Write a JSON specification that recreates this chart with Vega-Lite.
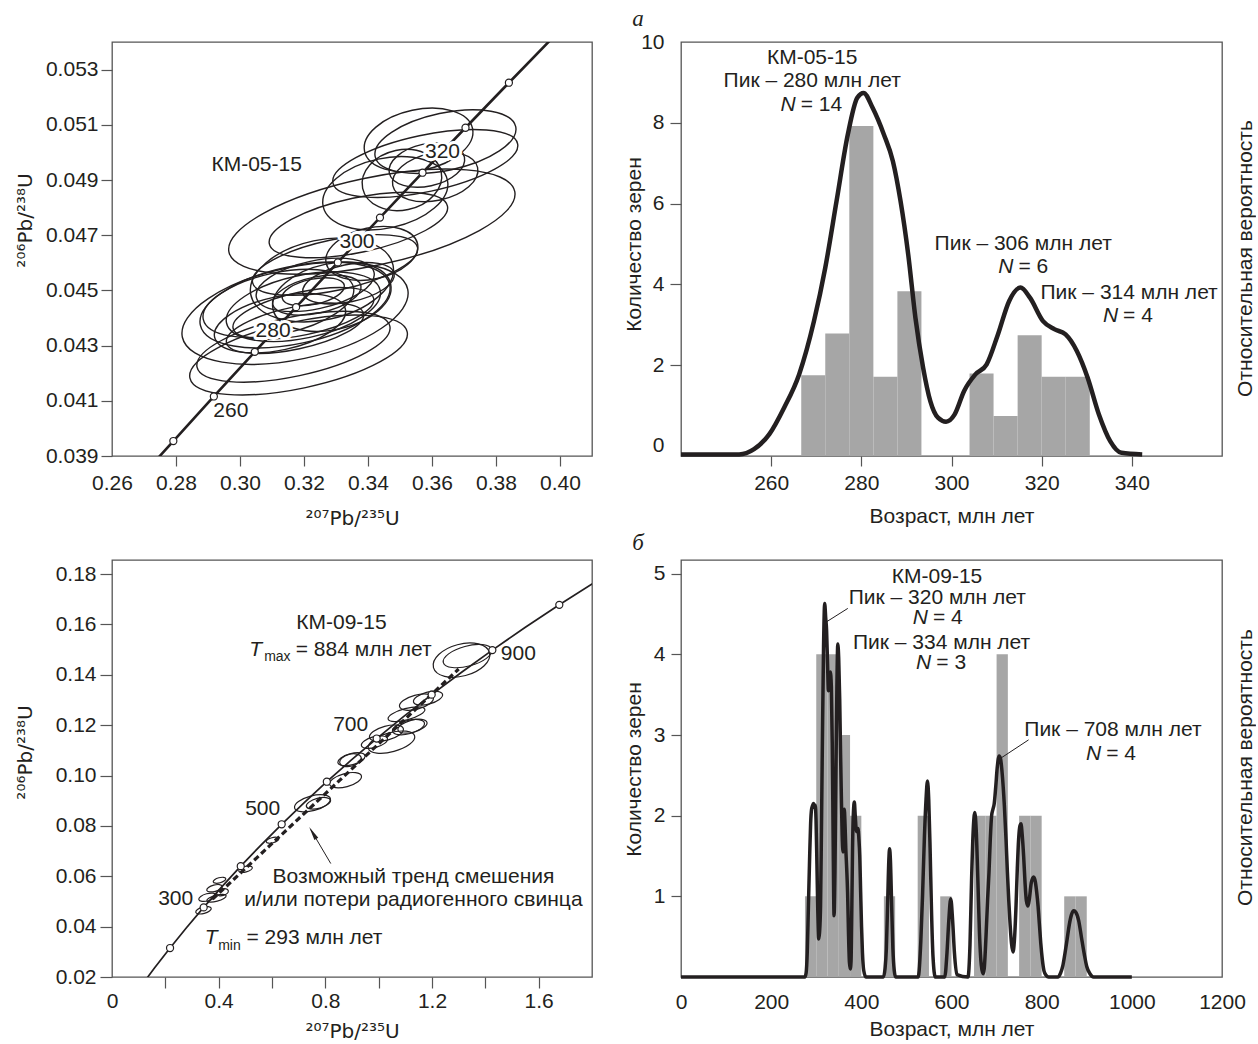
{
"$schema": "https://vega.github.io/schema/vega-lite/v6.json",
"background": "white",
"padding": {"left": 14, "top": 6, "right": 0, "bottom": 0},
"bounds": "flush",
"columns": 2,
"spacing": {"row": 104, "column": 89},
"resolve": {"scale": {"size": "independent", "shape": "independent"}},
"config": {
  "font": "Liberation Sans",
  "view": {"stroke": "#555555", "strokeWidth": 1.3},
  "axis": {"domain": false, "grid": false, "labelFont": "Liberation Sans", "labelFontSize": 21, "labelColor": "#231f20", "titleFont": "Liberation Sans", "titleFontSize": 21, "titleFontWeight": "normal", "titleColor": "#231f20", "tickColor": "#555555", "tickWidth": 1.2, "labelFlush": false, "labelOverlap": false},
  "text": {"font": "Liberation Sans", "fontSize": 21, "color": "#231f20"}
},
"datasets": {
  "tl_ell": [
    {"Pb207_U235":0.3642,"Pb206_U238":0.05039,"err_x":0.0449,"form":"b"},
    {"Pb207_U235":0.3579,"Pb206_U238":0.04960,"err_x":0.0590,"form":"a"},
    {"Pb207_U235":0.3454,"Pb206_U238":0.04852,"err_x":0.0397,"form":"c"},
    {"Pb207_U235":0.3506,"Pb206_U238":0.04900,"err_x":0.0251,"form":"d"},
    {"Pb207_U235":0.3584,"Pb206_U238":0.04954,"err_x":0.0240,"form":"c"},
    {"Pb207_U235":0.3610,"Pb206_U238":0.04912,"err_x":0.0271,"form":"c"},
    {"Pb207_U235":0.3412,"Pb206_U238":0.04749,"err_x":0.0913,"form":"a"},
    {"Pb207_U235":0.3370,"Pb206_U238":0.04737,"err_x":0.0569,"form":"a"},
    {"Pb207_U235":0.3412,"Pb206_U238":0.04634,"err_x":0.0292,"form":"c"},
    {"Pb207_U235":0.3558,"Pb206_U238":0.05045,"err_x":0.0345,"form":"c"},
    {"Pb207_U235":0.3172,"Pb206_U238":0.04417,"err_x":0.0720,"form":"b"},
    {"Pb207_U235":0.3183,"Pb206_U238":0.04266,"err_x":0.0694,"form":"a"},
    {"Pb207_U235":0.3167,"Pb206_U238":0.04296,"err_x":0.0616,"form":"a"},
    {"Pb207_U235":0.3172,"Pb206_U238":0.04447,"err_x":0.0605,"form":"b"},
    {"Pb207_U235":0.3198,"Pb206_U238":0.04441,"err_x":0.0491,"form":"b"},
    {"Pb207_U235":0.3256,"Pb206_U238":0.04538,"err_x":0.0454,"form":"c"},
    {"Pb207_U235":0.3235,"Pb206_U238":0.04520,"err_x":0.0376,"form":"b"},
    {"Pb207_U235":0.3240,"Pb206_U238":0.04483,"err_x":0.0282,"form":"b"},
    {"Pb207_U235":0.3229,"Pb206_U238":0.04495,"err_x":0.0198,"form":"b"},
    {"Pb207_U235":0.3297,"Pb206_U238":0.04592,"err_x":0.0527,"form":"a"},
    {"Pb207_U235":0.3198,"Pb206_U238":0.04417,"err_x":0.0449,"form":"a"},
    {"Pb207_U235":0.3172,"Pb206_U238":0.04363,"err_x":0.0438,"form":"a"},
    {"Pb207_U235":0.3125,"Pb206_U238":0.04381,"err_x":0.0418,"form":"b"},
    {"Pb207_U235":0.3287,"Pb206_U238":0.04477,"err_x":0.0376,"form":"c"},
    {"Pb207_U235":0.3120,"Pb206_U238":0.04453,"err_x":0.0480,"form":"b"},
    {"Pb207_U235":0.3339,"Pb206_U238":0.04526,"err_x":0.0292,"form":"b"}
  ],
  "tl_conc": [
    {"age":240,"Pb207_U235":0.26664,"Pb206_U238":0.037932},
    {"age":250,"Pb207_U235":0.27917,"Pb206_U238":0.039543},
    {"age":260,"Pb207_U235":0.29183,"Pb206_U238":0.041157},
    {"age":270,"Pb207_U235":0.30462,"Pb206_U238":0.042773},
    {"age":280,"Pb207_U235":0.31753,"Pb206_U238":0.044392},
    {"age":290,"Pb207_U235":0.33057,"Pb206_U238":0.046014},
    {"age":300,"Pb207_U235":0.34374,"Pb206_U238":0.047637},
    {"age":310,"Pb207_U235":0.35704,"Pb206_U238":0.049264},
    {"age":320,"Pb207_U235":0.37047,"Pb206_U238":0.050893},
    {"age":330,"Pb207_U235":0.38403,"Pb206_U238":0.052524},
    {"age":340,"Pb207_U235":0.39773,"Pb206_U238":0.054158},
    {"age":350,"Pb207_U235":0.41156,"Pb206_U238":0.055794}
  ],
  "tr_hist": [
    {"age_from":266.67,"age_to":272.0,"count":1.75},
    {"age_from":272.0,"age_to":277.33,"count":2.78},
    {"age_from":277.33,"age_to":282.67,"count":7.92},
    {"age_from":282.67,"age_to":288.0,"count":1.71},
    {"age_from":288.0,"age_to":293.33,"count":3.83},
    {"age_from":304.0,"age_to":309.33,"count":1.79},
    {"age_from":309.33,"age_to":314.67,"count":0.74},
    {"age_from":314.67,"age_to":320.0,"count":2.74},
    {"age_from":320.0,"age_to":325.33,"count":1.71},
    {"age_from":325.33,"age_to":330.67,"count":1.71}
  ],
  "tr_kde": [
    {"age":240,"density":0.04},{"age":252.9,"density":0.04},{"age":256.2,"density":0.17},{"age":259.6,"density":0.54},
    {"age":262.9,"density":1.2},{"age":266.2,"density":2.02},{"age":269.5,"density":3.34},{"age":272.0,"density":4.66},
    {"age":274.5,"density":6.31},{"age":277.0,"density":7.96},{"age":279.1,"density":8.87},{"age":280.5,"density":8.99},
    {"age":282.5,"density":8.62},{"age":285.0,"density":7.96},{"age":287.0,"density":7.3},{"age":288.7,"density":6.31},
    {"age":290.4,"density":4.99},{"age":292.0,"density":3.42},{"age":293.7,"density":2.19},{"age":295.3,"density":1.36},
    {"age":297.0,"density":0.95},{"age":298.8,"density":0.85},{"age":300.7,"density":1.03},{"age":302.8,"density":1.61},
    {"age":305.3,"density":2.02},{"age":307.8,"density":2.27},{"age":310.3,"density":3.01},{"age":312.8,"density":3.84},
    {"age":315.3,"density":4.17},{"age":317.4,"density":3.92},{"age":320.3,"density":3.34},{"age":322.8,"density":3.14},
    {"age":325.3,"density":3.01},{"age":327.8,"density":2.6},{"age":330.2,"density":1.94},{"age":332.7,"density":1.03},
    {"age":335.2,"density":0.37},{"age":337.7,"density":0.08},{"age":342.3,"density":0.04}
  ],
  "bl_ell": [
    {"Pb207_U235":1.3105,"Pb206_U238":0.14584,"err_x":0.2175,"form":"c"},
    {"Pb207_U235":1.3331,"Pb206_U238":0.14743,"err_x":0.1875,"form":"b"},
    {"Pb207_U235":1.1417,"Pb206_U238":0.12915,"err_x":0.1312,"form":"b"},
    {"Pb207_U235":1.1043,"Pb206_U238":0.12438,"err_x":0.1425,"form":"a"},
    {"Pb207_U235":1.1268,"Pb206_U238":0.11961,"err_x":0.1125,"form":"b"},
    {"Pb207_U235":1.0480,"Pb206_U238":0.11326,"err_x":0.1800,"form":"b"},
    {"Pb207_U235":1.0292,"Pb206_U238":0.11683,"err_x":0.1312,"form":"b"},
    {"Pb207_U235":0.9842,"Pb206_U238":0.11326,"err_x":0.1012,"form":"b"},
    {"Pb207_U235":1.1118,"Pb206_U238":0.11922,"err_x":0.1237,"form":"b"},
    {"Pb207_U235":0.8981,"Pb206_U238":0.10650,"err_x":0.1050,"form":"b"},
    {"Pb207_U235":0.8943,"Pb206_U238":0.10610,"err_x":0.0825,"form":"c"},
    {"Pb207_U235":0.8756,"Pb206_U238":0.09816,"err_x":0.1237,"form":"b"},
    {"Pb207_U235":0.7518,"Pb206_U238":0.08900,"err_x":0.1387,"form":"b"},
    {"Pb207_U235":0.7742,"Pb206_U238":0.08900,"err_x":0.0937,"form":"b"},
    {"Pb207_U235":0.6019,"Pb206_U238":0.07432,"err_x":0.0487,"form":"b"},
    {"Pb207_U235":0.5007,"Pb206_U238":0.06280,"err_x":0.0525,"form":"b"},
    {"Pb207_U235":0.4031,"Pb206_U238":0.05842,"err_x":0.0487,"form":"b"},
    {"Pb207_U235":0.3844,"Pb206_U238":0.05525,"err_x":0.0600,"form":"b"},
    {"Pb207_U235":0.3581,"Pb206_U238":0.05167,"err_x":0.0675,"form":"b"},
    {"Pb207_U235":0.3918,"Pb206_U238":0.05127,"err_x":0.0750,"form":"a"},
    {"Pb207_U235":0.3431,"Pb206_U238":0.04650,"err_x":0.0600,"form":"b"},
    {"Pb207_U235":0.4143,"Pb206_U238":0.05366,"err_x":0.0450,"form":"c"},
    {"Pb207_U235":1.1851,"Pb206_U238":0.13074,"err_x":0.1125,"form":"b"}
  ],
  "bl_conc": [
    {"age":100,"Pb207_U235":0.10350,"Pb206_U238":0.015633},
    {"age":150,"Pb207_U235":0.15919,"Pb206_U238":0.023542},
    {"age":200,"Pb207_U235":0.21770,"Pb206_U238":0.031511},
    {"age":250,"Pb207_U235":0.27917,"Pb206_U238":0.039543},
    {"age":300,"Pb207_U235":0.34374,"Pb206_U238":0.047637},
    {"age":350,"Pb207_U235":0.41156,"Pb206_U238":0.055794},
    {"age":400,"Pb207_U235":0.48281,"Pb206_U238":0.064016},
    {"age":450,"Pb207_U235":0.55766,"Pb206_U238":0.072301},
    {"age":500,"Pb207_U235":0.63628,"Pb206_U238":0.080650},
    {"age":550,"Pb207_U235":0.71887,"Pb206_U238":0.089064},
    {"age":600,"Pb207_U235":0.80563,"Pb206_U238":0.097544},
    {"age":650,"Pb207_U235":0.89677,"Pb206_U238":0.106090},
    {"age":700,"Pb207_U235":0.99251,"Pb206_U238":0.114702},
    {"age":750,"Pb207_U235":1.09308,"Pb206_U238":0.123382},
    {"age":800,"Pb207_U235":1.19873,"Pb206_U238":0.132129},
    {"age":850,"Pb207_U235":1.30971,"Pb206_U238":0.140944},
    {"age":900,"Pb207_U235":1.42629,"Pb206_U238":0.149828},
    {"age":950,"Pb207_U235":1.54876,"Pb206_U238":0.158781},
    {"age":1000,"Pb207_U235":1.67741,"Pb206_U238":0.167804},
    {"age":1050,"Pb207_U235":1.81255,"Pb206_U238":0.176897},
    {"age":1100,"Pb207_U235":1.95452,"Pb206_U238":0.186061}
  ],
  "br_hist": [
    {"age_from":275,"age_to":300,"count":1},{"age_from":300,"age_to":325,"count":4},{"age_from":325,"age_to":350,"count":4},
    {"age_from":350,"age_to":375,"count":3},{"age_from":375,"age_to":400,"count":2},{"age_from":450,"age_to":475,"count":1},
    {"age_from":525,"age_to":550,"count":2},{"age_from":575,"age_to":600,"count":1},{"age_from":650,"age_to":675,"count":2},
    {"age_from":675,"age_to":700,"count":2},{"age_from":700,"age_to":725,"count":4},{"age_from":750,"age_to":775,"count":2},
    {"age_from":775,"age_to":800,"count":2},{"age_from":850,"age_to":875,"count":1},{"age_from":875,"age_to":900,"count":1}
  ],
  "br_kde": [
    {"age":0,"density":0},{"age":274.6,"density":0},{"age":277.5,"density":0.05},{"age":280,"density":0.3},{"age":282.5,"density":0.85},
    {"age":285.4,"density":1.5},{"age":287.5,"density":1.9},{"age":289.6,"density":2.08},{"age":291.5,"density":2.12},{"age":293.8,"density":2.15},
    {"age":296,"density":2.1},{"age":297.9,"density":2.13},{"age":299.5,"density":1.95},{"age":301.5,"density":1.4},{"age":303.5,"density":0.8},
    {"age":305.4,"density":0.47},{"age":307.3,"density":0.55},{"age":309.6,"density":0.9},{"age":311.5,"density":1.8},{"age":313.7,"density":2.95},
    {"age":316.2,"density":4.1},{"age":318.7,"density":4.63},{"age":321,"density":4.45},{"age":322.9,"density":4.3},{"age":325,"density":3.9},
    {"age":327,"density":3.55},{"age":329,"density":3.7},{"age":331.2,"density":3.78},{"age":333.5,"density":3.6},{"age":335.5,"density":2.9},
    {"age":337.5,"density":1.7},{"age":339.5,"density":0.76},{"age":341.5,"density":1.3},{"age":343.7,"density":2.54},{"age":345.8,"density":3.6},
    {"age":347.8,"density":4.13},{"age":349.8,"density":3.95},{"age":352,"density":3.45},{"age":354,"density":2.75},{"age":355.8,"density":2.2},
    {"age":357.5,"density":1.75},{"age":359.5,"density":1.55},{"age":361,"density":1.85},{"age":362.2,"density":2.08},{"age":363.8,"density":1.9},
    {"age":365.5,"density":1.6},{"age":367.5,"density":1.35},{"age":369.5,"density":1.05},{"age":371.5,"density":0.55},{"age":373.6,"density":0.18},
    {"age":375.5,"density":0.1},{"age":377.2,"density":0.2},{"age":379,"density":0.9},{"age":380.5,"density":1.6},{"age":382.5,"density":2.05},
    {"age":384.5,"density":2.17},{"age":386.5,"density":2.0},{"age":388.6,"density":1.83},{"age":390.5,"density":1.8},{"age":392.5,"density":1.84},
    {"age":394.5,"density":1.72},{"age":396.5,"density":1.5},{"age":398.5,"density":1.05},{"age":400.5,"density":0.62},{"age":402.5,"density":0.3},
    {"age":405.3,"density":0.08},{"age":410,"density":0},{"age":449,"density":0},{"age":452.5,"density":0.1},{"age":455.5,"density":0.35},
    {"age":458.5,"density":0.95},{"age":461,"density":1.45},{"age":462.7,"density":1.59},{"age":464.5,"density":1.45},{"age":467,"density":0.95},
    {"age":470,"density":0.35},{"age":473,"density":0.08},{"age":476,"density":0},{"age":526,"density":0},{"age":532,"density":0.45},
    {"age":536,"density":1.05},{"age":540,"density":1.75},{"age":543.5,"density":2.2},{"age":546.7,"density":2.43},{"age":549.5,"density":2.2},
    {"age":552.5,"density":1.6},{"age":555.5,"density":0.85},{"age":559,"density":0.25},{"age":564,"density":0},{"age":585,"density":0},
    {"age":590,"density":0.3},{"age":594,"density":0.7},{"age":598.3,"density":0.97},{"age":602.5,"density":0.7},{"age":606.5,"density":0.3},
    {"age":612,"density":0.03},{"age":636.6,"density":0},{"age":641,"density":0.4},{"age":644.5,"density":1.2},{"age":648,"density":1.8},
    {"age":651.6,"density":2.04},{"age":655,"density":1.8},{"age":658.5,"density":1.2},{"age":662,"density":0.55},{"age":666,"density":0.15},
    {"age":669.9,"density":0.04},{"age":672.5,"density":0.1},{"age":676.5,"density":0.5},{"age":680,"density":0.95},{"age":683.2,"density":1.3},
    {"age":686,"density":1.7},{"age":689,"density":2.0},{"age":692,"density":2.08},{"age":694.8,"density":2.15},{"age":698,"density":2.35},
    {"age":701.5,"density":2.6},{"age":705.7,"density":2.74},{"age":709,"density":2.7},{"age":712,"density":2.55},{"age":717.3,"density":2.12},
    {"age":721,"density":1.7},{"age":724,"density":1.3},{"age":727,"density":0.95},{"age":730,"density":0.65},{"age":733,"density":0.42},
    {"age":736.4,"density":0.31},{"age":739.5,"density":0.45},{"age":743.1,"density":0.88},{"age":746,"density":1.35},{"age":749,"density":1.72},
    {"age":752,"density":1.88},{"age":754,"density":1.9},{"age":757,"density":1.75},{"age":760,"density":1.5},{"age":763,"density":1.18},
    {"age":766,"density":0.95},{"age":769.7,"density":0.88},{"age":773,"density":0.98},{"age":777,"density":1.17},{"age":782.2,"density":1.24},
    {"age":786,"density":1.18},{"age":789,"density":1.05},{"age":792,"density":0.88},{"age":795,"density":0.65},{"age":798,"density":0.42},
    {"age":801.4,"density":0.22},{"age":805,"density":0.08},{"age":810,"density":0.02},{"age":815.5,"density":0},{"age":836,"density":0},
    {"age":842,"density":0.05},{"age":847,"density":0.14},{"age":851.3,"density":0.28},{"age":856,"density":0.45},{"age":861.3,"density":0.65},
    {"age":866,"density":0.77},{"age":871.3,"density":0.82},{"age":876,"density":0.8},{"age":882.1,"density":0.7},{"age":888,"density":0.5},
    {"age":894.6,"density":0.28},{"age":900,"density":0.13},{"age":907.1,"density":0.04},{"age":915,"density":0},{"age":1000,"density":0}
  ]
},
"concat": [
  {
    "width": 480, "height": 414,
    "layer": [
      {
        "data": {"name": "tl_ell"},
        "mark": {"type": "point", "filled": false, "opacity": 1, "color": "#231f20", "strokeWidth": 1.4, "angle": 348, "clip": true},
        "encoding": {
          "x": {"field": "Pb207_U235", "type": "quantitative", "scale": {"domain": [0.26, 0.41], "nice": false, "zero": false},
            "axis": {"title": "²⁰⁷Pb/²³⁵U", "titleFont": "DejaVu Sans", "titleFontSize": 20, "values": [0.26,0.27,0.28,0.29,0.30,0.31,0.32,0.33,0.34,0.35,0.36,0.37,0.38,0.39,0.40], "format": ".2f",
              "labelExpr": "round(datum.value * 100) % 2 == 0 ? datum.label : ''", "tickSize": 10, "labelPadding": 6,
              "titleY": 68, "titleBaseline": "alphabetic",
              "tickOpacity": {"condition": {"test": "datum.value < 0.265", "value": 0}, "value": 1}}},
          "y": {"field": "Pb206_U238", "type": "quantitative", "scale": {"domain": [0.039, 0.054], "nice": false, "zero": false},
            "axis": {"title": "²⁰⁶Pb/²³⁸U", "titleFont": "DejaVu Sans", "titleFontSize": 20, "values": [0.039,0.04,0.041,0.042,0.043,0.044,0.045,0.046,0.047,0.048,0.049,0.05,0.051,0.052,0.053], "format": ".3f",
              "labelExpr": "round(datum.value * 1000) % 2 == 1 ? datum.label : ''", "tickSize": 11, "labelPadding": 3,
              "titleX": -81, "titleY": 178, "titleAngle": 270, "titleBaseline": "alphabetic", "titleAlign": "center"}},
          "size": {"field": "err_x", "type": "quantitative", "scale": {"type": "pow", "exponent": 2, "domain": [0, 0.15], "range": [0, 230400]}, "legend": null},
          "shape": {"field": "form", "type": "nominal", "legend": null, "scale": {"domain": ["a","b","c","d"], "range": [
            "M1,0C1,0.1657,0.5523,0.3,0,0.3C-0.5523,0.3,-1,0.1657,-1,0C-1,-0.1657,-0.5523,-0.3,0,-0.3C0.5523,-0.3,1,-0.1657,1,0Z",
            "M1,0C1,0.2209,0.5523,0.4,0,0.4C-0.5523,0.4,-1,0.2209,-1,0C-1,-0.2209,-0.5523,-0.4,0,-0.4C0.5523,-0.4,1,-0.2209,1,0Z",
            "M1,0C1,0.3038,0.5523,0.55,0,0.55C-0.5523,0.55,-1,0.3038,-1,0C-1,-0.3038,-0.5523,-0.55,0,-0.55C0.5523,-0.55,1,-0.3038,1,0Z",
            "M1,0C1,0.4142,0.5523,0.75,0,0.75C-0.5523,0.75,-1,0.4142,-1,0C-1,-0.4142,-0.5523,-0.75,0,-0.75C0.5523,-0.75,1,-0.4142,1,0Z"]}}
        }
      },
      {
        "data": {"name": "tl_conc"},
        "mark": {"type": "line", "color": "#231f20", "strokeWidth": 2.6, "clip": true},
        "encoding": {"x": {"field": "Pb207_U235", "type": "quantitative"}, "y": {"field": "Pb206_U238", "type": "quantitative"}, "order": {"field": "age", "type": "quantitative"}}
      },
      {
        "data": {"name": "tl_conc"},
        "transform": [{"filter": "datum.age >= 250 && datum.age <= 330"}],
        "mark": {"type": "circle", "fill": "white", "stroke": "#231f20", "strokeWidth": 1.2, "size": 50, "opacity": 1},
        "encoding": {"x": {"field": "Pb207_U235", "type": "quantitative"}, "y": {"field": "Pb206_U238", "type": "quantitative"}}
      },
      {
        "data": {"name": "tl_conc"},
        "transform": [{"filter": "datum.age == 260"}],
        "mark": {"type": "text", "dx": 17, "dy": 15, "stroke": "white", "strokeWidth": 6, "strokeJoin": "round", "fill": "white"},
        "encoding": {"x": {"field": "Pb207_U235", "type": "quantitative"}, "y": {"field": "Pb206_U238", "type": "quantitative"}, "text": {"field": "age", "type": "nominal"}}
      },
      {
        "data": {"name": "tl_conc"},
        "transform": [{"filter": "datum.age == 260"}],
        "mark": {"type": "text", "dx": 17, "dy": 15},
        "encoding": {"x": {"field": "Pb207_U235", "type": "quantitative"}, "y": {"field": "Pb206_U238", "type": "quantitative"}, "text": {"field": "age", "type": "nominal"}}
      },
      {
        "data": {"name": "tl_conc"},
        "transform": [{"filter": "datum.age == 280 || datum.age == 300 || datum.age == 320"}],
        "mark": {"type": "text", "dx": -23, "dy": 24, "stroke": "white", "strokeWidth": 6, "strokeJoin": "round", "fill": "white"},
        "encoding": {"x": {"field": "Pb207_U235", "type": "quantitative"}, "y": {"field": "Pb206_U238", "type": "quantitative"}, "text": {"field": "age", "type": "nominal"}}
      },
      {
        "data": {"name": "tl_conc"},
        "transform": [{"filter": "datum.age == 280 || datum.age == 300 || datum.age == 320"}],
        "mark": {"type": "text", "dx": -23, "dy": 24},
        "encoding": {"x": {"field": "Pb207_U235", "type": "quantitative"}, "y": {"field": "Pb206_U238", "type": "quantitative"}, "text": {"field": "age", "type": "nominal"}}
      },
      {
        "data": {"values": [{}]},
        "mark": {"type": "text", "text": "КМ-05-15"},
        "encoding": {"x": {"datum": 0.3052}, "y": {"datum": 0.04954}}
      }
    ]
  },
  {
    "width": 541, "height": 414,
    "title": {"text": "а", "font": "Liberation Serif", "fontStyle": "italic", "fontSize": 23, "fontWeight": "normal", "color": "#231f20", "anchor": "start", "frame": "group", "align": "center", "dx": -43, "baseline": "alphabetic", "offset": -17.5},
    "layer": [
      {
        "data": {"values": [{}]},
        "layer": [
          {
            "data": {"name": "tr_hist"},
            "mark": {"type": "bar", "color": "#a6a6a6"},
            "encoding": {
              "x": {"field": "age_from", "type": "quantitative", "scale": {"domain": [240, 360], "nice": false, "zero": false},
                "axis": {"title": "Возраст, млн лет", "values": [260, 280, 300, 320, 340], "tickSize": 10, "labelPadding": 6, "titleY": 66, "titleBaseline": "alphabetic"}},
              "x2": {"field": "age_to"},
              "y": {"field": "count", "type": "quantitative", "scale": {"domain": [-0.25, 10], "nice": false, "zero": false},
                "axis": {"title": "Количество зерен", "values": [0, 2, 4, 6, 8, 10], "tickSize": 11, "labelPadding": 6,
                  "titleX": -41, "titleY": 202, "titleAngle": 270, "titleBaseline": "alphabetic", "titleAlign": "center",
                  "tickOpacity": {"condition": {"test": "datum.value == 0 || datum.value == 10", "value": 0}, "value": 1}}},
              "y2": {"datum": -0.25}
            }
          },
          {"mark": {"type": "text", "text": "КМ-05-15", "baseline": "middle"}, "encoding": {"x": {"datum": 269.1}, "y": {"datum": 9.61}}},
          {"mark": {"type": "text", "text": "Пик – 280 млн лет", "baseline": "middle"}, "encoding": {"x": {"datum": 269.1}, "y": {"datum": 9.03}}},
          {"mark": {"type": "text", "text": "N", "fontStyle": "italic", "align": "right", "dx": -2, "baseline": "middle"}, "encoding": {"x": {"datum": 265.9}, "y": {"datum": 8.44}}},
          {"mark": {"type": "text", "text": "= 14", "align": "left", "dx": 3, "baseline": "middle"}, "encoding": {"x": {"datum": 265.9}, "y": {"datum": 8.44}}},
          {"mark": {"type": "text", "text": "Пик – 306 млн лет", "baseline": "middle"}, "encoding": {"x": {"datum": 315.9}, "y": {"datum": 4.99}}},
          {"mark": {"type": "text", "text": "N", "fontStyle": "italic", "align": "right", "dx": -2, "baseline": "middle"}, "encoding": {"x": {"datum": 314.2}, "y": {"datum": 4.44}}},
          {"mark": {"type": "text", "text": "= 6", "align": "left", "dx": 3, "baseline": "middle"}, "encoding": {"x": {"datum": 314.2}, "y": {"datum": 4.44}}},
          {"mark": {"type": "text", "text": "Пик – 314 млн лет", "baseline": "middle"}, "encoding": {"x": {"datum": 339.4}, "y": {"datum": 3.79}}},
          {"mark": {"type": "text", "text": "N", "fontStyle": "italic", "align": "right", "dx": -2, "baseline": "middle"}, "encoding": {"x": {"datum": 337.4}, "y": {"datum": 3.22}}},
          {"mark": {"type": "text", "text": "= 4", "align": "left", "dx": 3, "baseline": "middle"}, "encoding": {"x": {"datum": 337.4}, "y": {"datum": 3.22}}}
        ]
      },
      {
        "data": {"name": "tr_kde"},
        "mark": {"type": "line", "color": "#231f20", "strokeWidth": 4.5, "interpolate": "monotone", "strokeJoin": "round"},
        "encoding": {
          "x": {"field": "age", "type": "quantitative", "scale": {"domain": [240, 360], "nice": false, "zero": false}},
          "y": {"field": "density", "type": "quantitative", "scale": {"domain": [0, 10.25], "nice": false, "zero": false},
            "axis": {"orient": "right", "title": "Относительная вероятность", "labels": false, "ticks": false, "domain": false,
              "titleAngle": 270, "titleX": 29, "titleY": 216, "titleBaseline": "alphabetic", "titleAlign": "center"}}
        }
      }
    ],
    "resolve": {"scale": {"y": "independent"}}
  },
  {
    "width": 480, "height": 417,
    "layer": [
      {
        "data": {"name": "bl_ell"},
        "mark": {"type": "point", "filled": false, "opacity": 1, "color": "#231f20", "strokeWidth": 1.2, "angle": 345, "clip": true},
        "encoding": {
          "x": {"field": "Pb207_U235", "type": "quantitative", "scale": {"domain": [0, 1.8], "nice": false, "zero": false},
            "axis": {"title": "²⁰⁷Pb/²³⁵U", "titleFont": "DejaVu Sans", "titleFontSize": 20, "values": [0, 0.2, 0.4, 0.6, 0.8, 1.0, 1.2, 1.4, 1.6], "format": ".1~f",
              "labelExpr": "round(datum.value * 10) % 4 == 0 ? datum.label : ''", "tickSize": 11, "labelPadding": 2,
              "titleY": 60, "titleBaseline": "alphabetic",
              "tickOpacity": {"condition": {"test": "datum.value == 0", "value": 0}, "value": 1}}},
          "y": {"field": "Pb206_U238", "type": "quantitative", "scale": {"domain": [0.02, 0.1856], "nice": false, "zero": false},
            "axis": {"title": "²⁰⁶Pb/²³⁸U", "titleFont": "DejaVu Sans", "titleFontSize": 20, "values": [0.02,0.03,0.04,0.05,0.06,0.07,0.08,0.09,0.10,0.11,0.12,0.13,0.14,0.15,0.16,0.17,0.18], "format": ".2f",
              "labelExpr": "round(datum.value * 100) % 2 == 0 ? datum.label : ''", "tickSize": 12, "labelPadding": 4,
              "titleX": -81, "titleY": 192, "titleAngle": 270, "titleBaseline": "alphabetic", "titleAlign": "center"}},
          "size": {"field": "err_x", "type": "quantitative", "scale": {"type": "pow", "exponent": 2, "domain": [0, 1.8], "range": [0, 230400]}, "legend": null},
          "shape": {"field": "form", "type": "nominal", "legend": null, "scale": {"domain": ["a","b","c","d"], "range": [
            "M1,0C1,0.1657,0.5523,0.3,0,0.3C-0.5523,0.3,-1,0.1657,-1,0C-1,-0.1657,-0.5523,-0.3,0,-0.3C0.5523,-0.3,1,-0.1657,1,0Z",
            "M1,0C1,0.2209,0.5523,0.4,0,0.4C-0.5523,0.4,-1,0.2209,-1,0C-1,-0.2209,-0.5523,-0.4,0,-0.4C0.5523,-0.4,1,-0.2209,1,0Z",
            "M1,0C1,0.3038,0.5523,0.55,0,0.55C-0.5523,0.55,-1,0.3038,-1,0C-1,-0.3038,-0.5523,-0.55,0,-0.55C0.5523,-0.55,1,-0.3038,1,0Z",
            "M1,0C1,0.4142,0.5523,0.75,0,0.75C-0.5523,0.75,-1,0.4142,-1,0C-1,-0.4142,-0.5523,-0.75,0,-0.75C0.5523,-0.75,1,-0.4142,1,0Z"]}}
        }
      },
      {
        "data": {"name": "bl_conc"},
        "mark": {"type": "line", "color": "#231f20", "strokeWidth": 1.7, "clip": true},
        "encoding": {"x": {"field": "Pb207_U235", "type": "quantitative"}, "y": {"field": "Pb206_U238", "type": "quantitative"}, "order": {"field": "age", "type": "quantitative"}}
      },
      {
        "data": {"values": [{}]},
        "mark": {"type": "rule", "color": "#231f20", "strokeWidth": 3.2, "strokeDash": [6, 3.5]},
        "encoding": {"x": {"datum": 0.377}, "y": {"datum": 0.0509}, "x2": {"datum": 1.30}, "y2": {"datum": 0.1423}}
      },
      {
        "data": {"name": "bl_conc"},
        "transform": [{"filter": "datum.age >= 200 && datum.age <= 1000 && datum.age % 100 == 0"}],
        "mark": {"type": "circle", "fill": "white", "stroke": "#231f20", "strokeWidth": 1.2, "size": 50, "opacity": 1},
        "encoding": {"x": {"field": "Pb207_U235", "type": "quantitative"}, "y": {"field": "Pb206_U238", "type": "quantitative"}}
      },
      {
        "data": {"name": "bl_conc"}, "transform": [{"filter": "datum.age == 300"}],
        "mark": {"type": "text", "dx": -28, "dy": -8},
        "encoding": {"x": {"field": "Pb207_U235", "type": "quantitative"}, "y": {"field": "Pb206_U238", "type": "quantitative"}, "text": {"field": "age", "type": "nominal"}}
      },
      {
        "data": {"name": "bl_conc"}, "transform": [{"filter": "datum.age == 500"}],
        "mark": {"type": "text", "dx": -19, "dy": -15},
        "encoding": {"x": {"field": "Pb207_U235", "type": "quantitative"}, "y": {"field": "Pb206_U238", "type": "quantitative"}, "text": {"field": "age", "type": "nominal"}}
      },
      {
        "data": {"name": "bl_conc"}, "transform": [{"filter": "datum.age == 700"}],
        "mark": {"type": "text", "dx": -26, "dy": -14},
        "encoding": {"x": {"field": "Pb207_U235", "type": "quantitative"}, "y": {"field": "Pb206_U238", "type": "quantitative"}, "text": {"field": "age", "type": "nominal"}}
      },
      {
        "data": {"name": "bl_conc"}, "transform": [{"filter": "datum.age == 900"}],
        "mark": {"type": "text", "dx": 26, "dy": 4},
        "encoding": {"x": {"field": "Pb207_U235", "type": "quantitative"}, "y": {"field": "Pb206_U238", "type": "quantitative"}, "text": {"field": "age", "type": "nominal"}}
      },
      {
        "data": {"values": [{}]},
        "mark": {"type": "rule", "color": "#231f20", "strokeWidth": 1},
        "encoding": {"x": {"datum": 0.8204}, "y": {"datum": 0.06506}, "x2": {"datum": 0.745}, "y2": {"datum": 0.0786}}
      },
      {
        "data": {"values": [{}]},
        "mark": {"type": "point", "shape": "M0,-1L0.32,1L-0.32,1Z", "filled": true, "color": "#231f20", "size": 196, "angle": 329.5, "opacity": 1},
        "encoding": {"x": {"datum": 0.7529}, "y": {"datum": 0.07722}}
      },
      {"data": {"values": [{}]}, "mark": {"type": "text", "text": "КМ-09-15", "baseline": "middle"}, "encoding": {"x": {"datum": 0.8605}, "y": {"datum": 0.16042}}},
      {"data": {"values": [{}]}, "mark": {"type": "text", "text": "T", "fontStyle": "italic", "align": "left", "baseline": "alphabetic"}, "encoding": {"x": {"datum": 0.5144}, "y": {"datum": 0.14743}}},
      {"data": {"values": [{}]}, "mark": {"type": "text", "text": "max", "fontSize": 14, "align": "left", "baseline": "alphabetic", "dx": 15, "dy": 5}, "encoding": {"x": {"datum": 0.5144}, "y": {"datum": 0.14743}}},
      {"data": {"values": [{}]}, "mark": {"type": "text", "text": "= 884 млн лет", "align": "left", "baseline": "alphabetic", "dx": 46.6}, "encoding": {"x": {"datum": 0.5144}, "y": {"datum": 0.14743}}},
      {"data": {"values": [{}]}, "mark": {"type": "text", "text": "T", "fontStyle": "italic", "align": "left", "baseline": "alphabetic"}, "encoding": {"x": {"datum": 0.348}, "y": {"datum": 0.0330}}},
      {"data": {"values": [{}]}, "mark": {"type": "text", "text": "min", "fontSize": 14, "align": "left", "baseline": "alphabetic", "dx": 13.4, "dy": 6}, "encoding": {"x": {"datum": 0.348}, "y": {"datum": 0.0330}}},
      {"data": {"values": [{}]}, "mark": {"type": "text", "text": "= 293 млн лет", "align": "left", "baseline": "alphabetic", "dx": 41.7}, "encoding": {"x": {"datum": 0.348}, "y": {"datum": 0.0330}}},
      {"data": {"values": [{}]}, "mark": {"type": "text", "text": "Возможный тренд смешения", "baseline": "middle"}, "encoding": {"x": {"datum": 1.1305}, "y": {"datum": 0.05973}}},
      {"data": {"values": [{}]}, "mark": {"type": "text", "text": "и/или потери радиогенного свинца", "baseline": "middle"}, "encoding": {"x": {"datum": 1.1305}, "y": {"datum": 0.05048}}}
    ]
  },
  {
    "width": 541, "height": 417,
    "title": {"text": "б", "font": "Liberation Serif", "fontStyle": "italic", "fontSize": 23, "fontWeight": "normal", "color": "#231f20", "anchor": "start", "frame": "group", "align": "center", "dx": -43, "baseline": "alphabetic", "offset": -13},
    "layer": [
      {
        "data": {"values": [{}]},
        "layer": [
          {
            "data": {"name": "br_hist"},
            "mark": {"type": "bar", "color": "#a6a6a6"},
            "encoding": {
              "x": {"field": "age_from", "type": "quantitative", "scale": {"domain": [0, 1200], "nice": false},
                "axis": {"title": "Возраст, млн лет", "values": [0, 200, 400, 600, 800, 1000, 1200], "format": "d", "ticks": false, "labelPadding": 14, "titleY": 58, "titleBaseline": "alphabetic"}},
              "x2": {"field": "age_to"},
              "y": {"field": "count", "type": "quantitative", "scale": {"domain": [0, 5.17], "nice": false},
                "axis": {"title": "Количество зерен", "values": [1, 2, 3, 4, 5], "format": "d", "tickSize": 10, "labelPadding": 6,
                  "titleX": -41, "titleY": 209, "titleAngle": 270, "titleBaseline": "alphabetic", "titleAlign": "center"}},
              "y2": {"datum": 0}
            }
          },
          {"mark": {"type": "rule", "color": "#231f20", "strokeWidth": 1}, "encoding": {"x": {"datum": 321.8}, "y": {"datum": 4.40}, "x2": {"datum": 370}, "y2": {"datum": 4.57}}},
          {"mark": {"type": "rule", "color": "#231f20", "strokeWidth": 1}, "encoding": {"x": {"datum": 708.5}, "y": {"datum": 2.71}, "x2": {"datum": 771}, "y2": {"datum": 2.94}}},
          {"mark": {"type": "text", "text": "КМ-09-15", "baseline": "middle"}, "encoding": {"x": {"datum": 568}, "y": {"datum": 4.96}}},
          {"mark": {"type": "text", "text": "Пик – 320 млн лет", "baseline": "middle"}, "encoding": {"x": {"datum": 568.5}, "y": {"datum": 4.70}}},
          {"mark": {"type": "text", "text": "N", "fontStyle": "italic", "align": "right", "dx": -2, "baseline": "middle"}, "encoding": {"x": {"datum": 552.3}, "y": {"datum": 4.45}}},
          {"mark": {"type": "text", "text": "= 4", "align": "left", "dx": 3, "baseline": "middle"}, "encoding": {"x": {"datum": 552.3}, "y": {"datum": 4.45}}},
          {"mark": {"type": "text", "text": "Пик – 334 млн лет", "baseline": "middle"}, "encoding": {"x": {"datum": 578}, "y": {"datum": 4.14}}},
          {"mark": {"type": "text", "text": "N", "fontStyle": "italic", "align": "right", "dx": -2, "baseline": "middle"}, "encoding": {"x": {"datum": 559.6}, "y": {"datum": 3.89}}},
          {"mark": {"type": "text", "text": "= 3", "align": "left", "dx": 3, "baseline": "middle"}, "encoding": {"x": {"datum": 559.6}, "y": {"datum": 3.89}}},
          {"mark": {"type": "text", "text": "Пик – 708 млн лет", "baseline": "middle"}, "encoding": {"x": {"datum": 958}, "y": {"datum": 3.06}}},
          {"mark": {"type": "text", "text": "N", "fontStyle": "italic", "align": "right", "dx": -2, "baseline": "middle"}, "encoding": {"x": {"datum": 936.5}, "y": {"datum": 2.77}}},
          {"mark": {"type": "text", "text": "= 4", "align": "left", "dx": 3, "baseline": "middle"}, "encoding": {"x": {"datum": 936.5}, "y": {"datum": 2.77}}}
        ]
      },
      {
        "data": {"name": "br_kde"},
        "mark": {"type": "line", "color": "#231f20", "strokeWidth": 3.5, "interpolate": "monotone", "strokeJoin": "round"},
        "encoding": {
          "x": {"field": "age", "type": "quantitative", "scale": {"domain": [0, 1200], "nice": false}},
          "y": {"field": "density", "type": "quantitative", "scale": {"domain": [0, 5.17], "nice": false},
            "axis": {"orient": "right", "title": "Относительная вероятность", "labels": false, "ticks": false, "domain": false,
              "titleAngle": 270, "titleX": 29, "titleY": 207, "titleBaseline": "alphabetic", "titleAlign": "center"}}
        }
      }
    ],
    "resolve": {"scale": {"y": "independent"}}
  }
]
}
